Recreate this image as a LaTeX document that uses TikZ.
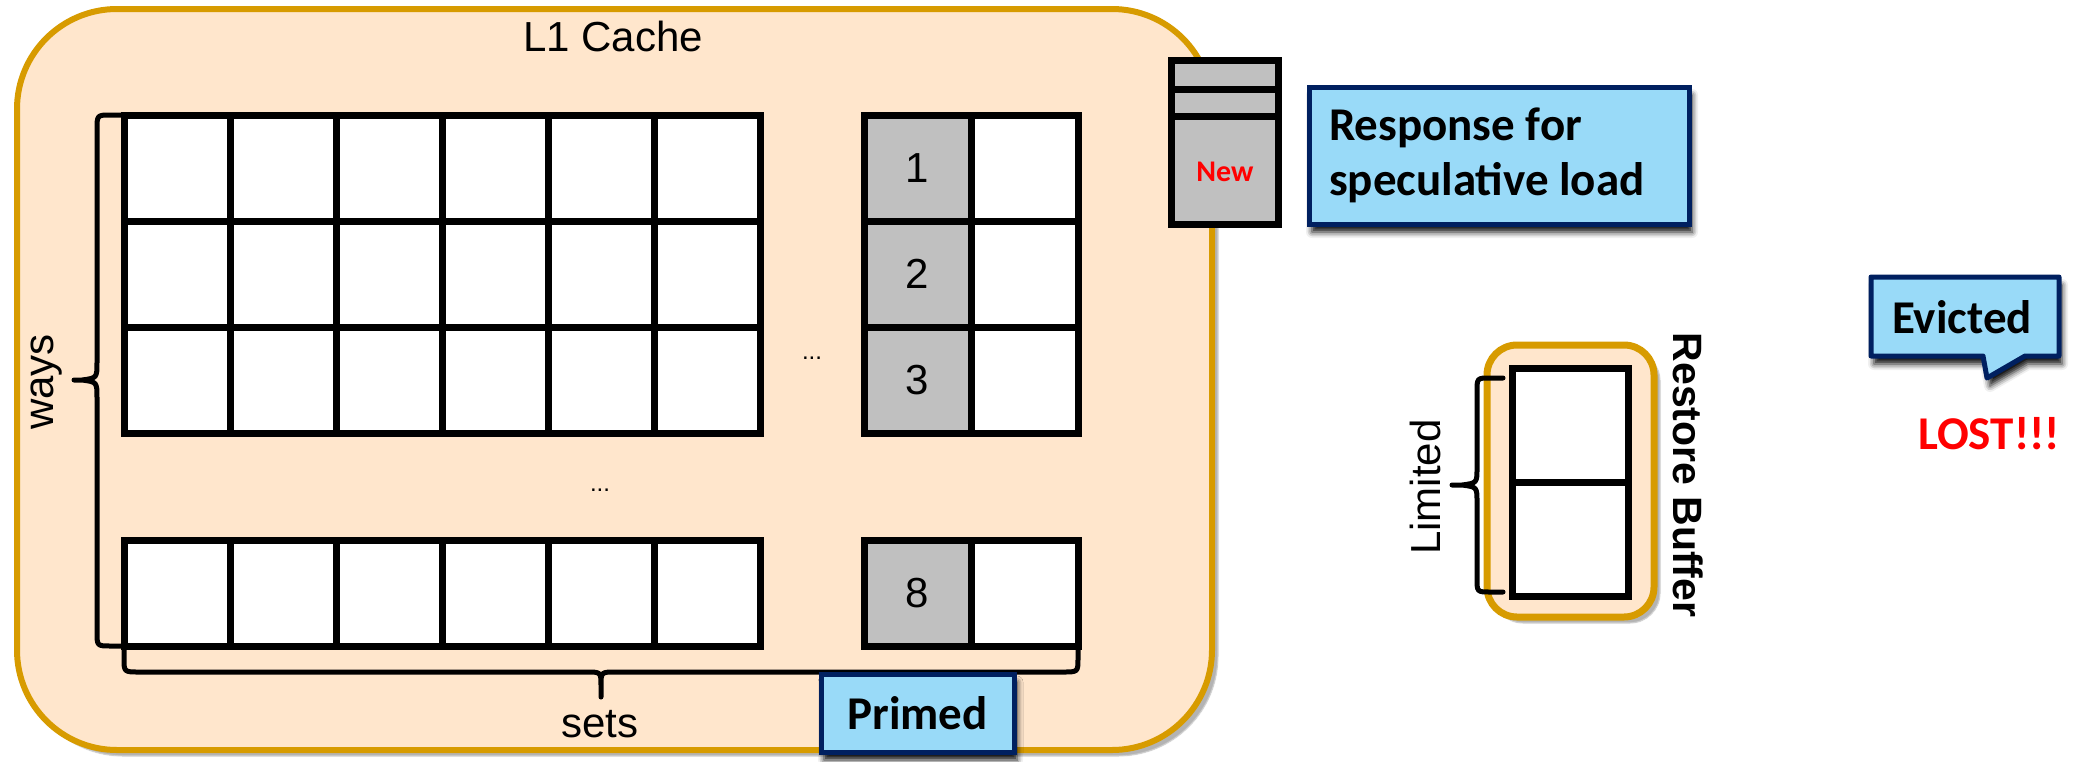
\documentclass[tikz,border=0pt]{standalone}
\usepackage{fontspec}
\setmainfont{Liberation Sans}
\newfontfamily\calib{Carlito}
\usetikzlibrary{shadows.blur}
\definecolor{cfill}{HTML}{FFE6CC}
\definecolor{cdraw}{HTML}{D79B00}
\definecolor{cgray}{HTML}{C0C0C0}
\definecolor{cblue}{HTML}{99DAF8}
\definecolor{cnavy}{HTML}{002060}
\definecolor{cred}{HTML}{FF0000}
\begin{document}
\begin{tikzpicture}[x=1pt,y=-1pt,
  cell/.style={draw=black, line width=7pt, fill=white, minimum width=106pt, minimum height=106pt, inner sep=0pt, outer sep=0pt},
  gcell/.style={cell, fill=cgray, minimum width=107pt, font=\fontsize{42}{50}\selectfont},
  lbl/.style={font=\fontsize{42}{50}\selectfont, inner sep=0pt},
  dots/.style={font=\fontsize{24}{28}\selectfont, inner sep=0pt},
  call/.style={draw=cnavy, line width=5pt, fill=cblue, blur shadow={shadow xshift=3pt, shadow yshift=-8pt, shadow blur radius=6pt, shadow opacity=95}},
  ctext/.style={font=\calib\bfseries\fontsize{47}{55}\selectfont, inner sep=0pt},
  brace/.style={draw=black, line width=5pt, line cap=round, line join=round},
  orbox/.style={draw=cdraw, fill=cfill, inner sep=0pt, blur shadow={shadow xshift=6pt, shadow yshift=-6pt, shadow blur radius=1pt, shadow opacity=30}},
  stack/.style={draw=black, fill=cgray, line width=7pt, inner sep=0pt, minimum width=106.5pt},
]
\useasboundingbox (0,0) rectangle (2083,761);

% L1 cache container
\node[orbox, line width=6pt, rounded corners=100pt, minimum width=1195pt, minimum height=741pt] (l1) at (614.5,379.5) {};
\node[lbl] (l1t) at (613,36) {L1 Cache};

% main grid
\foreach \i in {0,...,5} {
  \foreach \j in {0,1,2} {
    \node[cell] (c\i\j) at ({177+106*\i},{168+106*\j}) {};
  }
  \node[cell] (b\i) at ({177+106*\i},593) {};
}
% primed column
\foreach \j/\n in {0/1,1/2,2/3} {
  \node[cell, minimum width=107pt] (w\n) at (1024.5,{168+106*\j}) {};
  \node[gcell] (g\n) at (917.5,{168+106*\j}) {\n};
}
\node[cell, minimum width=107pt] (w8) at (1024.5,593) {};
\node[gcell] (g8) at (917.5,593) {8};

\node[dots] (d1) at (812,358) {...};
\node[dots] (d2) at (600,490) {...};

% ways brace
\coordinate (wt) at (74,380);
\draw[brace] (c00.north west) -- (111,115) .. controls (97,115) .. (97,130) -- (97,362)
  .. controls (97,378) .. (82,380) -- (wt) -- (82,380) .. controls (97,382) .. (97,398)
  -- (97,632) .. controls (97,646) .. (111,646) -- (b0.south west);
\node[lbl, rotate=90] (ways) at (47,382) {ways};

% sets brace
\coordinate (st) at (601,697);
\draw[brace] (b0.south west) -- (124,658) .. controls (124,672) .. (139,672) -- (586,672)
  .. controls (601,672) .. (601,686) -- (st) -- (601,686) .. controls (601,672) .. (616,672)
  -- (1063,672) .. controls (1078,672) .. (1078,658) -- (w8.south east);
\node[lbl] (sets) at (600,724) {sets};

% Primed callout
\node[call, minimum width=193pt, minimum height=78pt, ctext] (primed) at (917.5,713) {Primed};

% New stack
\node[stack, minimum height=164.5pt] (s1) at (1224.75,142.25) {};
\node[stack, minimum height=135pt] (s2) at (1224.75,157) {};
\node[stack, minimum height=108pt] (s3) at (1224.75,170.5) {};
\node[font=\calib\bfseries\fontsize{30}{34}\selectfont, text=cred, inner sep=0pt] (new) at (1225,172) {New};

% Response callout
\node[call, minimum width=380pt, minimum height=137pt, text width=340pt, align=left, ctext] (resp) at (1499,155.5) {\spaceskip=0pt Response for\\speculative load};

% Restore buffer
\node[orbox, line width=7pt, rounded corners=30pt, minimum width=167pt, minimum height=272pt] (rb) at (1570.5,481) {};
\node[cell, minimum width=116pt, minimum height=114pt] (rb1) at (1570,425) {};
\node[cell, minimum width=116pt, minimum height=114pt] (rb2) at (1570,539) {};
\coordinate (lt) at (1452,485);
\draw[brace] (1503,378) -- (1490,378) .. controls (1477,378) .. (1477,392) -- (1477,468)
  .. controls (1477,483) .. (1462,485) -- (lt) -- (1462,485) .. controls (1477,487) .. (1477,502)
  -- (1477,578) .. controls (1477,592) .. (1490,592) -- (1503,592);
\node[lbl, rotate=90] (lim) at (1425,487) {Limited};
\node[lbl, rotate=-90, font=\bfseries\fontsize{41}{50}\selectfont] (rbt) at (1688,475) {Restore Buffer};

% Evicted callout
\coordinate (e1) at (1871,277);
\coordinate (e2) at (2059,277);
\coordinate (e3) at (2059,356);
\coordinate (e4) at (2025,356);
\coordinate (etip) at (1987,378);
\coordinate (e5) at (1983,356);
\coordinate (e6) at (1871,356);
\draw[call, line join=round] (e1) -- (e2) -- (e3) -- (e4) -- (etip) -- (e5) -- (e6) -- cycle;
\node[ctext] (ev) at (1962,317) {Evicted};
\node[ctext, text=cred] (lost) at (1989,434) {LOST!!!};
\end{tikzpicture}
\end{document}
